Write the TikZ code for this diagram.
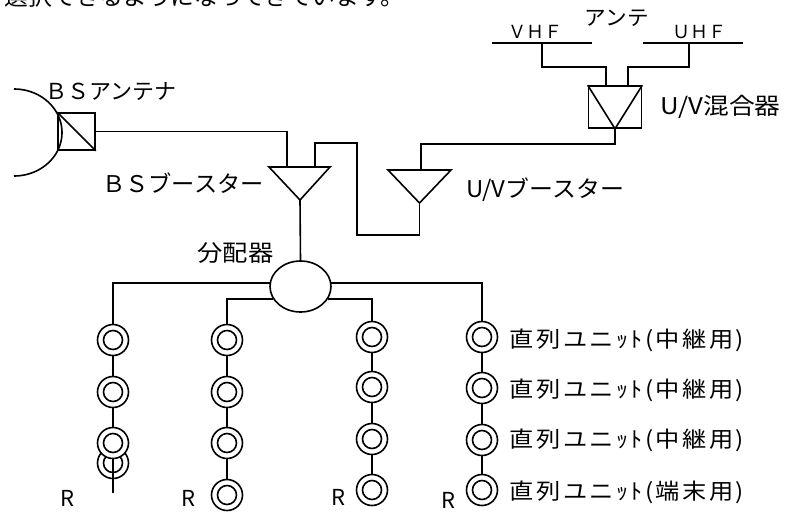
\documentclass[tikz,border=0pt]{standalone}
\usepackage{fontspec}
\setmainfont{Noto Sans CJK JP}
\usetikzlibrary{shapes.geometric}
\pgfdeclarelayer{bg}
\pgfsetlayers{bg,main}
\begin{document}
\begin{tikzpicture}[x=1pt,y=-1pt,line width=1.6pt,
  lbl/.style={font=\fontsize{22}{22}\selectfont, inner sep=0pt},
  txt/.style n args={3}{font=\fontsize{#1}{#1}\selectfont\addfontfeature{FakeStretch=#2,LetterSpace=#3}, inner sep=0pt},
  small/.style={font=\fontsize{18}{18}\selectfont, inner sep=0pt},
  unit/.style={circle, draw, fill=white, minimum size=31pt, inner sep=0pt,
    path picture={\draw[line width=1.6pt] (path picture bounding box.center) circle[radius=9.5pt];}},
  hollowunit/.style={unit, fill=none},
  box/.style={draw, inner sep=0pt},
  wire/.style={line width=1.6pt}]
\useasboundingbox (0,0) rectangle (787,512);

% top cut text
\node[txt={23}{1.035}{0}, anchor=base west] (toptext) at (4,5) {選択できるようになってきています。};

% BS antenna
\draw[shift={(14,132.5)}] plot[domain=-90:90, samples=60] ({48*cos(\x)},{43.5*sin(\x)});
\node[box, minimum size=37pt] (bsconv) at (76.5,131.5) {};
\draw (bsconv.north west) -- (bsconv.south east);
\node[lbl] (bsantlbl) at (111,92) {ＢＳアンテナ};

% BS booster
\coordinate (bsL) at (269,167);
\coordinate (bsR) at (330,167);
\coordinate (bsO) at (300,200);
\coordinate (bsIn1) at (287,167);
\coordinate (bsIn2) at (315,167);
\draw (bsL) -- (bsR) -- (bsO) -- cycle;
\node[txt={23}{1.01}{0}] (bsbstlbl) at (183,183) {ＢＳブースター};

% UV booster
\coordinate (uvL) at (388,170);
\coordinate (uvR) at (451,170);
\coordinate (uvO) at (419.5,203);
\coordinate (uvIn) at (421,170);
\coordinate (j1) at (357,235);
\draw (uvL) -- (uvR) -- (uvO) -- cycle;
\node[txt={23}{1.04}{0}] (uvbstlbl) at (545,190) {U/Vブースター};

% mixer
\node[box, minimum width=53pt, minimum height=42pt] (mix) at (615,107) {};
\draw (mix.north west) -- (mix.south) -- (mix.north east);
\coordinate (mixIn1) at (606,86);
\coordinate (mixIn2) at (628,86);
\node[txt={23}{1.12}{0}, anchor=west] (mixlbl) at (660,107) {U/V混合器};

% antennas
\coordinate (vhfL) at (492,43);
\coordinate (vhfR) at (592,43);
\coordinate (vhfF) at (542,43);
\coordinate (uhfL) at (643,43);
\coordinate (uhfR) at (743,43);
\coordinate (uhfF) at (689,43);
\draw (vhfL) -- (vhfR);
\draw (uhfL) -- (uhfR);
\node[small] (vhflbl) at (535,32) {ＶＨＦ};
\node[small] (uhflbl) at (699,32) {ＵＨＦ};
\node[txt={21}{1.03}{0}] (antelbl) at (617,18) {アンテ};

% splitter
\node[ellipse, draw, minimum width=61pt, minimum height=51pt, inner sep=0pt] (spl) at (300.5,286.5) {};
\node[txt={23}{1.1}{0}] (spllbl) at (235.5,253) {分配器};

% units
\node[unit] (c11) at (113,340) {};
\node[unit] (c12) at (113,392) {};
\node[hollowunit] (c14) at (113,463) {};
\node[unit] (c13) at (113,443) {};
\coordinate (e1) at (113,493);
\node[unit] (c21) at (227,340) {};
\node[unit] (c22) at (227,392) {};
\node[unit] (c23) at (227,443) {};
\node[unit] (c24) at (227,495) {};
\node[unit] (c31) at (372,337) {};
\node[unit] (c32) at (372,387) {};
\node[unit] (c33) at (372,439) {};
\node[unit] (c34) at (372,490) {};
\node[unit] (c41) at (482,337) {};
\node[unit] (c42) at (482,388) {};
\node[unit] (c43) at (482,440) {};
\node[unit] (c44) at (482,490) {};

\node[lbl] (r1) at (67,498) {R};
\node[lbl] (r2) at (188,498) {R};
\node[lbl] (r3) at (338,497) {R};
\node[lbl] (r4) at (448,500) {R};

\node[txt={22}{1.1}{11}, anchor=west] (u1) at (509,340) {直列ユニｯﾄ(中継用)};
\node[txt={22}{1.1}{11}, anchor=west] (u2) at (509,390) {直列ユニｯﾄ(中継用)};
\node[txt={22}{1.1}{11}, anchor=west] (u3) at (509,440) {直列ユニｯﾄ(中継用)};
\node[txt={22}{1.1}{11}, anchor=west] (u4) at (509,492) {直列ユニｯﾄ(端末用)};

% connectors
\begin{pgfonlayer}{bg}
\begin{scope}[wire]
\draw (bsconv.east) -| (bsIn1);
\draw (bsIn2) -- ++(0,-24) -| (j1) -| (uvO);
\draw (uvIn) -- ++(0,-26) -| (mix.south);
\draw (mixIn1) -- ++(0,-19) -| (vhfF);
\draw (mixIn2) -- ++(0,-19) -| (uhfF);
\draw (bsO) -- (spl.north);
\draw (spl.173) -| (c11);
\draw (spl.205) -| (c21);
\draw (spl.335) -| (c31);
\draw (spl.7) -| (c41);
\draw (c11) -- (c12) -- (c13) -- (e1);
\draw (c21) -- (c22) -- (c23) -- (c24);
\draw (c31) -- (c32) -- (c33) -- (c34);
\draw (c41) -- (c42) -- (c43) -- (c44);
\end{scope}
\end{pgfonlayer}
\end{tikzpicture}
\end{document}
